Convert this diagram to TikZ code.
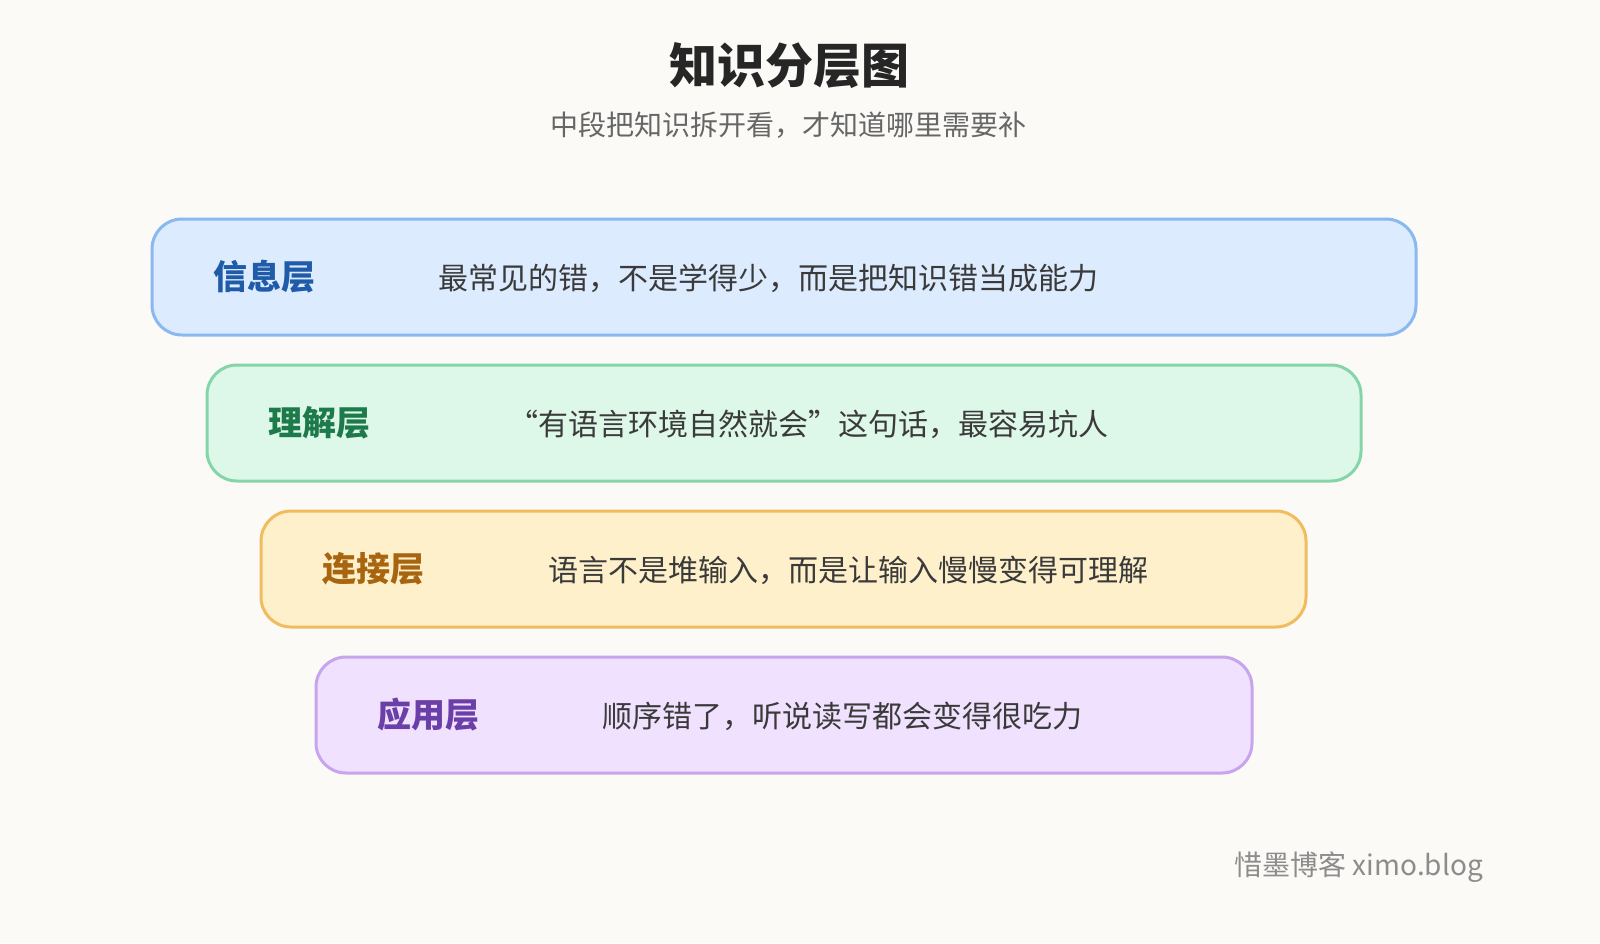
\documentclass[tikz,border=0pt]{standalone}
\usepackage{fontspec}
\setmainfont{Noto Sans CJK SC}
\definecolor{bg}{HTML}{FBFAF6}
\definecolor{txt}{HTML}{3A3A3A}
\definecolor{fa}{HTML}{DCEBFE}\definecolor{sa}{HTML}{8AB8F0}\definecolor{la}{HTML}{1F5BA8}
\definecolor{fb}{HTML}{DDF7E9}\definecolor{sb}{HTML}{86D5A8}\definecolor{lb}{HTML}{1E7A4A}
\definecolor{fc}{HTML}{FFF0CC}\definecolor{sc}{HTML}{F0BC5E}\definecolor{lc}{HTML}{A8650F}
\definecolor{fd}{HTML}{F0E2FF}\definecolor{sd}{HTML}{C6A4EE}\definecolor{ld}{HTML}{6B3FA8}
\tikzset{layer/.style={rounded corners=30pt,line width=3pt},
lbl/.style={anchor=west,inner sep=0pt,font=\fontsize{34}{38}\selectfont\bfseries},
desc/.style={anchor=west,inner sep=0pt,text=txt,font=\fontsize{30}{34}\selectfont}}
\begin{document}
\begin{tikzpicture}[x=1pt,y=-1pt]
\fill[bg] (0,0) rectangle (1600,943);
\useasboundingbox (0,0) rectangle (1600,943);
\node[font=\fontsize{48}{54}\selectfont\bfseries,text=black!85] (title) at (789,66) {知识分层图};
\node[font=\fontsize{28}{32}\selectfont,text=black!60] (sub) at (788,125) {中段把知识拆开看，才知道哪里需要补};
\draw[layer,fill=fa,draw=sa] (152,219) rectangle (1416,335);
\node[lbl,text=la] (l1) at (213,277) {信息层};
\node[desc] (d1) at (438,278) {最常见的错，不是学得少，而是把知识错当成能力};
\draw[layer,fill=fb,draw=sb] (207,365) rectangle (1361,481);
\node[lbl,text=lb] (l2) at (268,423) {理解层};
\node[desc] (d2) at (508,424) {“有语言环境自然就会”这句话，最容易坑人};
\draw[layer,fill=fc,draw=sc] (261,511) rectangle (1306,627);
\node[lbl,text=lc] (l3) at (322,569) {连接层};
\node[desc] (d3) at (548,570) {语言不是堆输入，而是让输入慢慢变得可理解};
\draw[layer,fill=fd,draw=sd] (316,657) rectangle (1252,773);
\node[lbl,text=ld] (l4) at (377,715) {应用层};
\node[desc] (d4) at (602,716) {顺序错了，听说读写都会变得很吃力};
\node[anchor=east,inner sep=0pt,text=black!45,font=\fontsize{28}{30}\selectfont] (wm) at (1483,867) {惜墨博客 ximo.blog};
\end{tikzpicture}
\end{document}
